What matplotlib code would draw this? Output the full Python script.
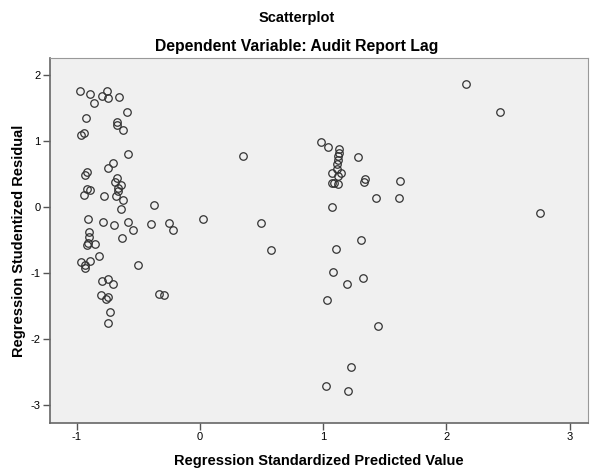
import matplotlib
matplotlib.use("Agg")
import matplotlib.pyplot as plt

plt.rcParams['font.family'] = ['Liberation Sans', 'DejaVu Sans']
plt.rcParams['axes.unicode_minus'] = False

# Regression standardized predicted value (x) and studentized residual (y)
pred = [
    -0.973, -0.892, -0.757, -0.797, -0.744, -0.657, -0.860, -0.594, -0.927, -0.676,
    -0.676, -0.622, -0.941, -0.968, -0.584, -0.703, -0.744, -0.919, -0.933, -0.671,
    -0.689, -0.643, -0.663, -0.663, -0.919, -0.892, -0.938, -0.779, -0.681, -0.627,
    -0.638, -0.371, -0.906, -0.789, -0.695, -0.582, -0.546, -0.395, -0.254, -0.219,
    -0.898, -0.898, -0.906, -0.914, -0.852, -0.635, -0.822, -0.892, -0.968, -0.929,
    -0.933, -0.503, -0.797, -0.746, -0.703, -0.805, -0.749, -0.765, -0.330, -0.290,
    -0.730, -0.749,
    0.027, 0.351, 0.495, 0.573,
    0.981, 1.036, 1.125, 1.125, 1.123, 1.117, 1.114, 1.109, 1.072, 1.144,
    1.123, 1.071, 1.087, 1.123, 1.284, 1.341, 1.334, 1.625, 1.427, 1.612,
    1.068, 1.306, 1.105, 1.081, 1.322, 1.190, 1.030, 1.444, 1.225, 1.024,
    1.198,
    2.163, 2.436, 2.763,
]
resid = [
    1.765, 1.719, 1.756, 1.684, 1.659, 1.674, 1.574, 1.442, 1.346, 1.285,
    1.240, 1.164, 1.127, 1.093, 0.804, 0.668, 0.592, 0.536, 0.490, 0.440,
    0.384, 0.334, 0.288, 0.243, 0.269, 0.253, 0.187, 0.167, 0.171, 0.102,
    -0.026, 0.038, -0.182, -0.232, -0.273, -0.232, -0.349, -0.263, -0.238, -0.341,
    -0.375, -0.460, -0.542, -0.577, -0.561, -0.475, -0.744, -0.815, -0.827, -0.880,
    -0.930, -0.880, -1.118, -1.093, -1.164, -1.335, -1.361, -1.401, -1.320, -1.335,
    -1.589, -1.765,
    -0.182, 0.774, -0.247, -0.657,
    0.994, 0.915, 0.883, 0.824, 0.774, 0.713, 0.649, 0.574, 0.524, 0.511,
    0.475, 0.364, 0.360, 0.344, 0.766, 0.425, 0.384, 0.399, 0.132, 0.137,
    0.005, -0.501, -0.637, -0.986, -1.073, -1.164, -1.411, -1.810, -2.428, -2.716,
    -2.782,
    1.862, 1.437, -0.091,
]
xticks = [-1, 0, 1, 2, 3]
yticks = [-3, -2, -1, 0, 1, 2]

fig = plt.figure(figsize=(5.93, 4.76), dpi=100)
ax = fig.add_axes([0.0843, 0.112, 0.9073, 0.766])
ax.set_facecolor('#f0f0f0')

ax.plot(pred, resid, linestyle='none', marker='o', markersize=5.4,
        markerfacecolor='none', markeredgecolor='#333333', markeredgewidth=0.9)

ax.set_xlim(-1.217, 3.15)
ax.set_ylim(-3.27, 2.26)
ax.set_xticks(xticks)
ax.set_yticks(yticks)
ax.tick_params(direction='out', length=5, width=1, color='#555555',
               labelsize=8, pad=2)

for side in ['left', 'bottom']:
    ax.spines[side].set_color('#666666')
    ax.spines[side].set_linewidth(1.2)
for side in ['top', 'right']:
    ax.spines[side].set_color('#999999')
    ax.spines[side].set_linewidth(0.8)

ax.set_xlabel("Regression Standardized Predicted Value", fontsize=10.5,
              fontweight='bold', labelpad=8)
ax.set_ylabel("Regression Studentized Residual", fontsize=10.5,
              fontweight='bold', labelpad=3)

fig.text(0.5, 0.962, "Scatterplot", ha='center', va='center',
         fontsize=10.5, fontweight='bold')
fig.text(0.5, 0.903, "Dependent Variable: Audit Report Lag", ha='center',
         va='center', fontsize=11.3, fontweight='bold')

fig.savefig("out.png", dpi=100)
